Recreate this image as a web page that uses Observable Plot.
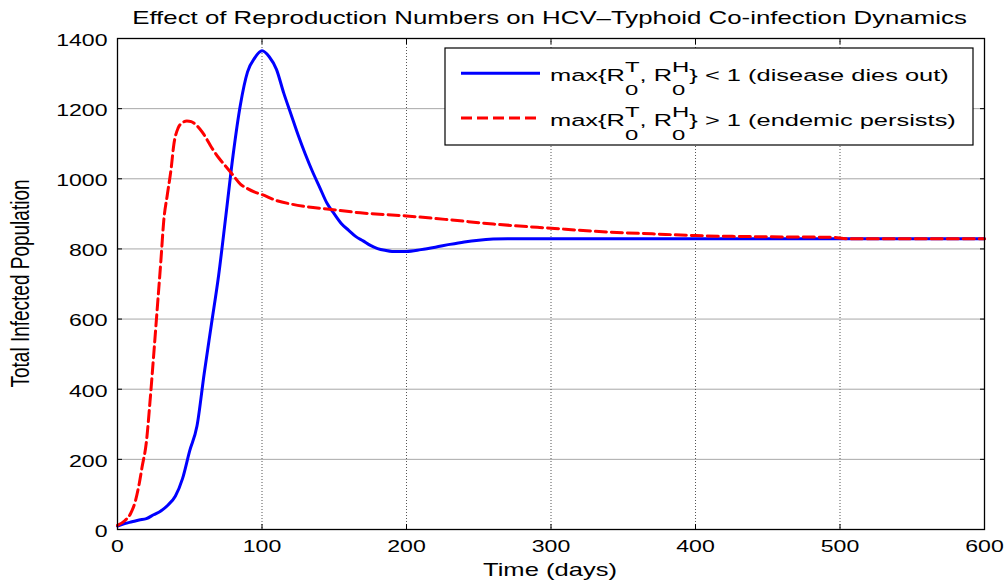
<!DOCTYPE html>
<html><head><meta charset="utf-8">
<script src="https://cdn.jsdelivr.net/npm/d3@7"></script>
<script src="https://cdn.jsdelivr.net/npm/@observablehq/plot@0.6"></script>
<style>
html,body{margin:0;padding:0;background:#fff;}
#chart{width:1008px;height:583px;position:relative;}
svg text{white-space:pre;}
</style>
</head><body><div id="chart"></div>
<script>
// ---- data ----
const chartTitle = "Effect of Reproduction Numbers on HCV\u2013Typhoid Co-infection Dynamics";
const xLabel = "Time (days)";
const yLabel = "Total Infected Population";
const xTicks = [0, 100, 200, 300, 400, 500, 600];
const yTicks = [0, 200, 400, 600, 800, 1000, 1200, 1400];
const seriesLabels = [
  "max{R_0^T, R_0^H} < 1 (disease dies out)",
  "max{R_0^T, R_0^H} > 1 (endemic persists)"
];
const blueT = [0, 5, 10, 15, 20, 25, 30, 35, 40, 45, 50, 55, 60, 65, 70, 75, 80, 85, 90, 95, 100,
  105, 110, 115, 120, 125, 130, 135, 140, 145, 150, 155, 160, 165, 170, 175, 180, 185, 190, 200,
  210, 220, 230, 240, 250, 260, 270, 300, 400, 500, 600];
const blueV = [10, 17, 22, 27, 31, 42, 53, 70, 95, 145, 225, 295, 445, 585, 725, 895, 1068, 1210, 1305, 1345, 1365,
  1348, 1312, 1245, 1185, 1125, 1070, 1020, 975, 930, 900, 872, 853, 835, 823, 810, 801, 796, 793, 793,
  798, 805, 813, 820, 825, 828, 829, 829, 829, 829, 829];
const redT = [0, 5, 9, 12.5, 15, 17, 20, 22.5, 25, 27.5, 30, 32, 34.5, 37, 39, 42, 45, 48, 51, 54, 57, 60,
  65, 70, 75, 80, 85, 90, 95, 100, 110, 120, 130, 145, 168, 200, 230, 260, 300, 340, 370, 400, 440, 495, 505, 600];
const redV = [12, 25, 45, 83, 130, 178, 250, 365, 495, 630, 765, 880, 955, 1025, 1098, 1145, 1160, 1165, 1163, 1155, 1142, 1125,
  1090, 1060, 1035, 1010, 985, 972, 962, 955, 938, 928, 921, 914, 903, 894, 883, 871, 859, 848, 843, 838, 835, 833, 829, 829];

// ---- build ----
const FONT = "'Liberation Sans', Arial, Helvetica, sans-serif";
const SX = 1.4; // horizontal stretch of the reference text
const blueData = blueT.map((t, i) => ({t, v: blueV[i]}));
const redData = redT.map((t, i) => ({t, v: redV[i]}));
const fmt = d => String(d);

const plot = Plot.plot({
  width: 1008, height: 583,
  marginLeft: 117, marginRight: 24, marginTop: 38, marginBottom: 54,
  style: {fontFamily: FONT, fontSize: "16.5px", color: "black", background: "white"},
  x: {domain: [0, 600], ticks: xTicks, label: null},
  y: {domain: [0, 1400], ticks: yTicks, label: null},
  marks: [
    Plot.gridY(yTicks.slice(1, -1), {stroke: "#a8a8a8", strokeOpacity: 1, strokeWidth: 1}),
    Plot.gridX(xTicks.slice(1, -1), {stroke: "#555", strokeOpacity: 1, strokeWidth: 1, strokeDasharray: "1,2"}),
    Plot.line(blueData, {x: "t", y: "v", stroke: "#0000ff", strokeWidth: 3, curve: "monotone-x"}),
    Plot.line(redData, {x: "t", y: "v", stroke: "#ff0000", strokeWidth: 3, strokeDasharray: "11,5", curve: "monotone-x"}),
    Plot.frame({stroke: "black", strokeWidth: 1.3}),
    Plot.axisX(xTicks, {anchor: "bottom", tickSize: 0, tickPadding: 11, fontSize: 16.5, tickFormat: fmt, label: null}),
    Plot.axisX(xTicks, {anchor: "bottom", fill: "none", tickSize: 5, dy: -5, label: null}),
    Plot.axisX(xTicks, {anchor: "top", fill: "none", tickSize: 5, dy: 5, label: null}),
    Plot.axisY(yTicks, {anchor: "left", tickSize: 0, tickPadding: 10, dy: 2, fontSize: 16.5, tickFormat: fmt, label: null}),
    Plot.axisY(yTicks, {anchor: "left", fill: "none", tickSize: 5, dx: 5, label: null}),
    Plot.axisY(yTicks, {anchor: "right", fill: "none", tickSize: 5, dx: -5, label: null})
  ]
});
document.getElementById("chart").appendChild(plot);

// stretch tick labels horizontally like the reference
plot.querySelectorAll('g[aria-label$="tick label"] text').forEach(t => {
  const tr = t.getAttribute("transform") || "";
  t.setAttribute("transform", tr + ` scale(${SX},1)`);
});

const svg = d3.select(plot);
function fitText(sel, targetWidth) {
  const w = sel.node().getBBox().width;
  return targetWidth / w;
}
// title
const tt = svg.append("text").attr("font-family", FONT).attr("font-size", 18).attr("fill", "black")
  .attr("text-anchor", "middle").text(chartTitle);
tt.attr("transform", `translate(549.5,24) scale(${fitText(tt, 835)},1)`);
// x label
const xl = svg.append("text").attr("font-family", FONT).attr("font-size", 18).attr("fill", "black")
  .attr("text-anchor", "middle").text(xLabel);
xl.attr("transform", `translate(550,576) scale(${fitText(xl, 134)},1)`);
// y label
const yl = svg.append("text").attr("font-family", FONT).attr("font-size", 19).attr("fill", "black")
  .attr("text-anchor", "middle").text(yLabel);
yl.attr("transform", `translate(29,283.5) scale(${SX},1) rotate(-90)`);

// legend
const lg = svg.append("g").attr("aria-label", "legend");
lg.append("rect").attr("x", 445).attr("y", 48).attr("width", 528).attr("height", 97)
  .attr("fill", "white").attr("stroke", "black").attr("stroke-width", 1.2);
const legendStyles = [
  {stroke: "#0000ff", dash: null, lineY: 73.3, baseY: 81},
  {stroke: "#ff0000", dash: "11,5", lineY: 118, baseY: 126}
];
function richText(sel, str, sfs) {
  const parts = str.split(/(R_0\^[A-Z])/);
  let pendingDy = 0;
  for (const p of parts) {
    const m = p.match(/^R_0\^([A-Z])$/);
    if (m) {
      const r = sel.append("tspan").text("R");
      if (pendingDy) { r.attr("dy", pendingDy); pendingDy = 0; }
      sel.append("tspan").attr("font-size", sfs).attr("dy", 14).text("0");
      sel.append("tspan").attr("font-size", sfs).attr("dx", -0.556 * sfs).attr("dy", -23).text(m[1]);
      pendingDy = 9;
    } else if (p) {
      const t = sel.append("tspan").text(p);
      if (pendingDy) { t.attr("dy", pendingDy); pendingDy = 0; }
    }
  }
}
let legendScale = null;
seriesLabels.forEach((lab, i) => {
  const st = legendStyles[i];
  lg.append("line").attr("x1", 461).attr("x2", 540).attr("y1", st.lineY).attr("y2", st.lineY)
    .attr("stroke", st.stroke).attr("stroke-width", 3).attr("stroke-dasharray", st.dash);
  const tx = lg.append("text").attr("font-family", FONT).attr("font-size", 16.5).attr("fill", "black")
    .attr("text-anchor", "start");
  richText(tx, lab, 15.5);
  if (legendScale === null) legendScale = fitText(tx, 399);
  tx.attr("transform", `translate(550,${st.baseY}) scale(${legendScale},1)`);
});
</script>
</body></html>
